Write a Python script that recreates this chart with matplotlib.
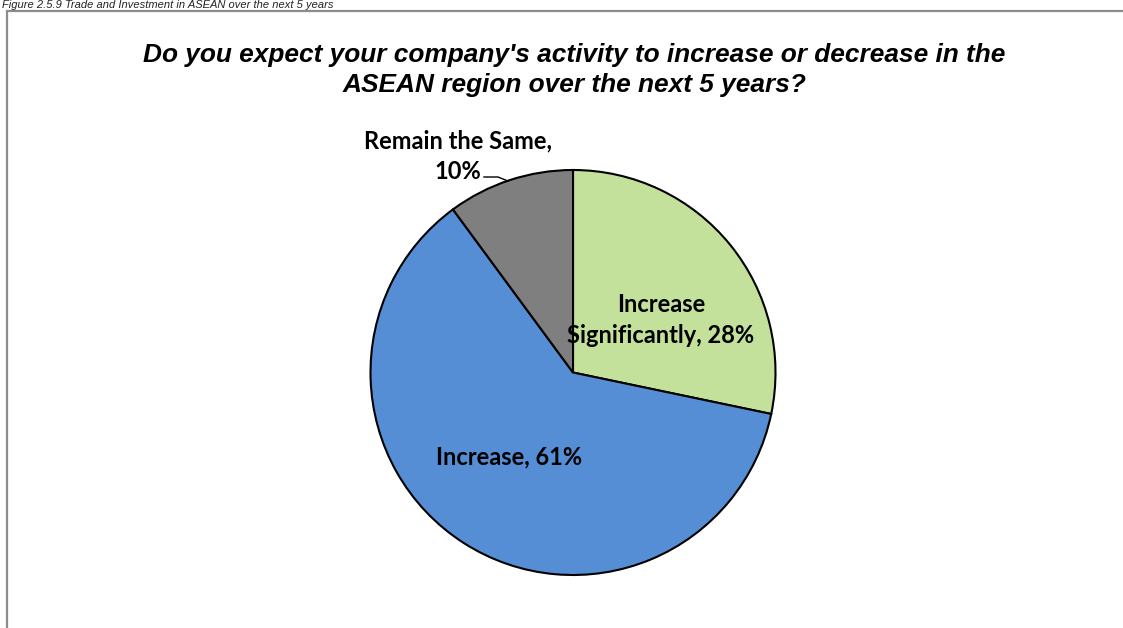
import matplotlib
matplotlib.use("Agg")
import matplotlib.pyplot as plt
from matplotlib.patches import Rectangle

categories = ["Increase Significantly", "Increase", "Remain the Same"]
values = [28, 61, 10]
colors = ["#C3E19B", "#558ED5", "#7F7F7F"]
title = "Do you expect your company's activity to increase or decrease in the\nASEAN region over the next 5 years?"
caption = "Figure 2.5.9 Trade and Investment in ASEAN over the next 5 years"

W, H = 1123, 628
fig = plt.figure(figsize=(W / 100, H / 100), dpi=100)
ax = fig.add_axes([0, 0, 1, 1])
ax.set_xlim(0, W)
ax.set_ylim(0, H)
ax.set_aspect("equal")
ax.axis("off")

def Y(py):
    return H - py

# outer border
ax.add_patch(Rectangle((7, Y(700)), 1200, 700 - 11, fill=False,
                       edgecolor="#8C8C8C", linewidth=1.6))

# caption at top
ax.text(2, Y(0.5), caption, fontsize=8, fontstyle="italic",
        family="Liberation Sans", ha="left", va="top", color="#222222")

ax.text(574, Y(70), title, fontsize=18.9, fontweight="bold", fontstyle="italic",
        family="Liberation Sans", ha="center", va="center", linespacing=1.3)

cx, cy, r = 573, Y(372.5), 202.5
ax.pie(values, colors=colors, startangle=90, counterclock=False,
       center=(cx, cy), radius=r, frame=True,
       wedgeprops=dict(edgecolor="black", linewidth=1.5))
ax.set_xlim(0, W)
ax.set_ylim(0, H)
ax.axis("off")

lab_font = dict(fontsize=17, fontweight="bold", family="Lato", color="black")
ax.text(661, Y(320), "Increase\nSignificantly, " + f"{values[0]}%",
        ha="center", va="center", linespacing=1.45, **lab_font)
ax.text(509, Y(457), f"Increase, {values[1]}%", ha="center", va="center", **lab_font)
ax.text(458, Y(156), "Remain the Same,\n" + f"{values[2]}%", ha="center", va="center",
        linespacing=1.4, **lab_font)
# leader line
ax.plot([484, 498, 508], [Y(177), Y(177), Y(181)], color="black", linewidth=1)

fig.savefig("out.png", dpi=100)
